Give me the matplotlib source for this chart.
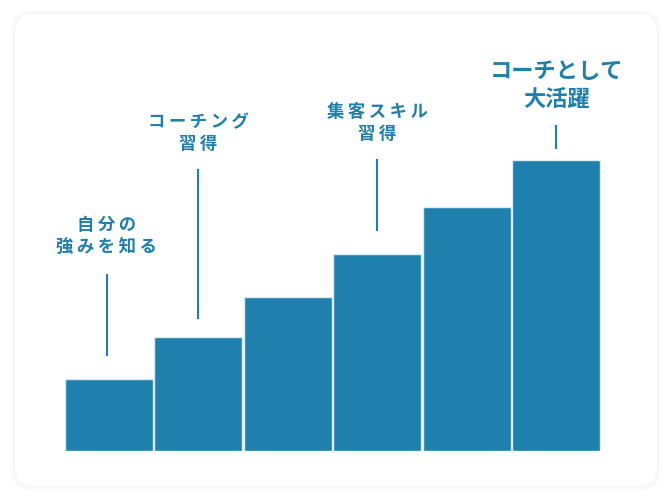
import matplotlib
matplotlib.use("Agg")
import matplotlib.pyplot as plt
from matplotlib.patches import FancyBboxPatch

plt.rcParams['font.family'] = ['Noto Sans CJK JP', 'DejaVu Sans']

# ---- data ----
steps = [0, 1, 2, 3, 4, 5]
levels = [72, 114, 154, 197, 244, 291]
label_steps = [0, 1, 3, 5]
label_lines = [["自分の", "強みを知る"], ["コーチング", "習得"], ["集客スキル", "習得"], ["コーチとして", "大活躍"]]
line_start = [95, 132, 220, 302]
line_end = [177, 282, 292, 326]
label_y = [196, 299, 309, 341]
label_spaced = [True, True, True, False]

BLUE = "#1f80ad"
W, H = 672, 502

fig = plt.figure(figsize=(W / 100, H / 100), dpi=100)
fig.patch.set_facecolor("white")

# card background with faint shadow
bg = fig.add_axes([0, 0, 1, 1])
bg.set_xlim(0, W)
bg.set_ylim(0, H)
bg.axis("off")
for k, a in [(5, 0.006), (4, 0.007), (3, 0.008), (2, 0.009), (1, 0.010)]:
    bg.add_patch(FancyBboxPatch((15 - k, 15 - k), 642 + 2 * k, 472 + 2 * k,
                                boxstyle="round,pad=0,rounding_size=%d" % (18 + k),
                                facecolor="black", edgecolor="none", alpha=a))
bg.add_patch(FancyBboxPatch((15, 15), 642, 472, boxstyle="round,pad=0,rounding_size=18",
                            facecolor="white", edgecolor="none"))

ax = fig.add_axes([64 / W, 50 / H, 537 / W, 412 / H])
ax.set_xlim(-0.5, 5.5)
ax.set_ylim(0, 412)
ax.axis("off")
ax.patch.set_alpha(0)

ax.bar(steps, levels, width=0.98, color=BLUE, edgecolor="#dcecf6", linewidth=1.0)

for s, lines, y0, y1, ly, sp in zip(label_steps, label_lines, line_start, line_end, label_y, label_spaced):
    xs = s - 0.025 if s == 0 else s
    ax.plot([xs, xs], [y0, y1], color=BLUE, linewidth=1.5, solid_capstyle="butt")
    if sp:
        txt = "\n".join("\u2009".join(list(l)) for l in lines)
        fs = 12.5
        lsp = 1.3
    else:
        txt = "\n".join(lines)
        fs = 16
        lsp = 1.25
    ax.text(xs, ly, txt, ha="center", va="bottom", color=BLUE, fontsize=fs,
            fontweight="bold", linespacing=lsp, multialignment="center")

fig.savefig("out.png", dpi=100, facecolor="white")
